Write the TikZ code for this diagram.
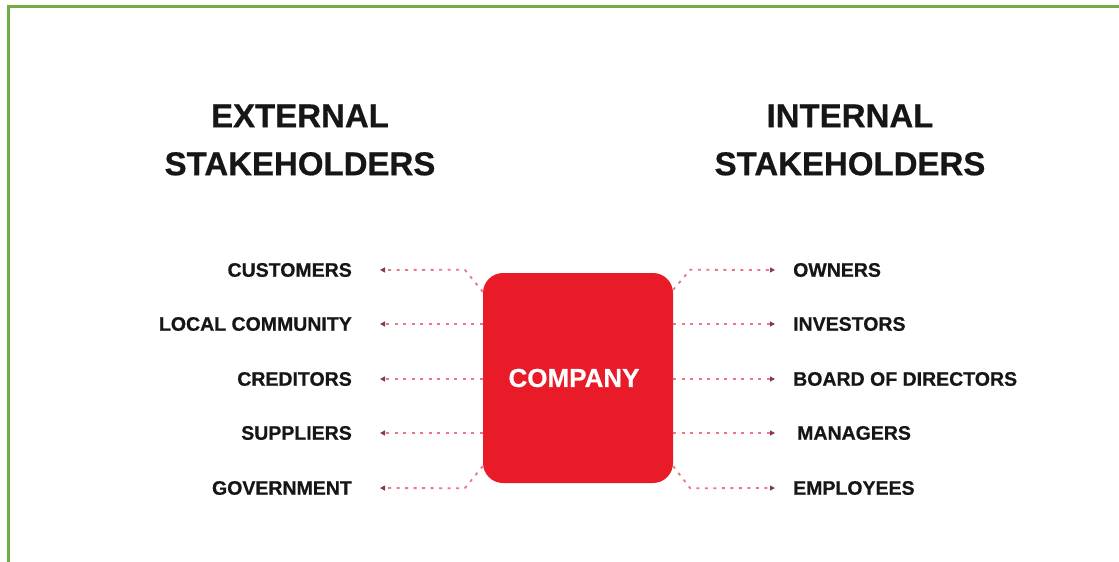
\documentclass[tikz,border=0pt]{standalone}
\usepackage{fontspec}
\setmainfont{Liberation Sans}[BoldFeatures={FakeBold=0.6}]
\usetikzlibrary{arrows.meta}
\definecolor{framegreen}{RGB}{112,173,71}
\definecolor{corpred}{RGB}{233,27,41}
\definecolor{dotpink}{RGB}{234,118,134}
\definecolor{tipgrey}{RGB}{130,60,75}
\definecolor{ink}{RGB}{22,22,22}
\begin{document}
\begin{tikzpicture}[x=1pt,y=-1pt,
  heading/.style={font=\bfseries\fontsize{33}{48}\selectfont, align=center, inner sep=0pt, text=ink},
  party/.style={font=\bfseries\fontsize{19.5}{22}\selectfont, inner sep=0pt, text=ink},
  hub/.style={fill=corpred, rounded corners=20pt, minimum width=190pt, minimum height=210pt,
    inner sep=0pt, text=white, font=\bfseries\fontsize{26}{30}\selectfont},
  link/.style={draw=dotpink, line width=1.8pt, dash pattern=on 3pt off 5.5pt,
    -{Triangle[length=5pt,width=5pt,color=tipgrey,fill=tipgrey]}},
  linkL/.style={link, shorten >=28pt},
  linkR/.style={link, shorten >=18pt}
]
\useasboundingbox (0,0) rectangle (1119,562);
\fill[white] (0,0) rectangle (1119,562);

% frame along the top and left edges
\draw[framegreen, line width=3pt] (8,562) -- (8,6.2) -- (1119,6.2);

% headings
\node[heading] (ext) at (300,140) {EXTERNAL\\STAKEHOLDERS};
\node[heading] (int) at (850,140) {INTERNAL\\STAKEHOLDERS};

% central company
\node[hub] (company) at (578,378) {\hspace*{-8pt}COMPANY};

% external stakeholders
\node[party, anchor=east] (cust) at (352,270) {CUSTOMERS};
\node[party, anchor=east] (loc)  at (352,324) {LOCAL COMMUNITY};
\node[party, anchor=east] (cred) at (352,379) {CREDITORS};
\node[party, anchor=east] (supp) at (352,433) {SUPPLIERS};
\node[party, anchor=east] (gov)  at (352,488) {GOVERNMENT};

% internal stakeholders
\node[party, anchor=west] (own)  at (793,270) {OWNERS};
\node[party, anchor=west] (inv)  at (793,324) {INVESTORS};
\node[party, anchor=west] (bod)  at (793,379) {BOARD OF DIRECTORS};
\node[party, anchor=west] (man)  at (797,433) {MANAGERS};
\node[party, anchor=west] (emp)  at (793,488) {EMPLOYEES};

% connectors to the left
\draw[linkL] ([yshift=-19pt]company.north west) -- ++(-18,-22) -- (cust.east);
\draw[linkL] (company.west |- loc.east)  -- (loc.east);
\draw[linkL] (company.west |- cred.east) -- (cred.east);
\draw[linkL] (company.west |- supp.east) -- (supp.east);
\draw[linkL] ([yshift=17pt]company.south west) -- ++(-18,22) -- (gov.east);

% connectors to the right
\draw[linkR] ([yshift=-17pt]company.north east) -- ++(17,-20) -- (own.west);
\draw[linkR] (company.east |- inv.west) -- (inv.west);
\draw[linkR] (company.east |- bod.west) -- (bod.west);
\draw[linkR, shorten >=22pt] (company.east |- man.west) -- (man.west);
\draw[linkR] ([yshift=17pt]company.south east) -- ++(17,22) -- (emp.west);
\end{tikzpicture}
\end{document}
